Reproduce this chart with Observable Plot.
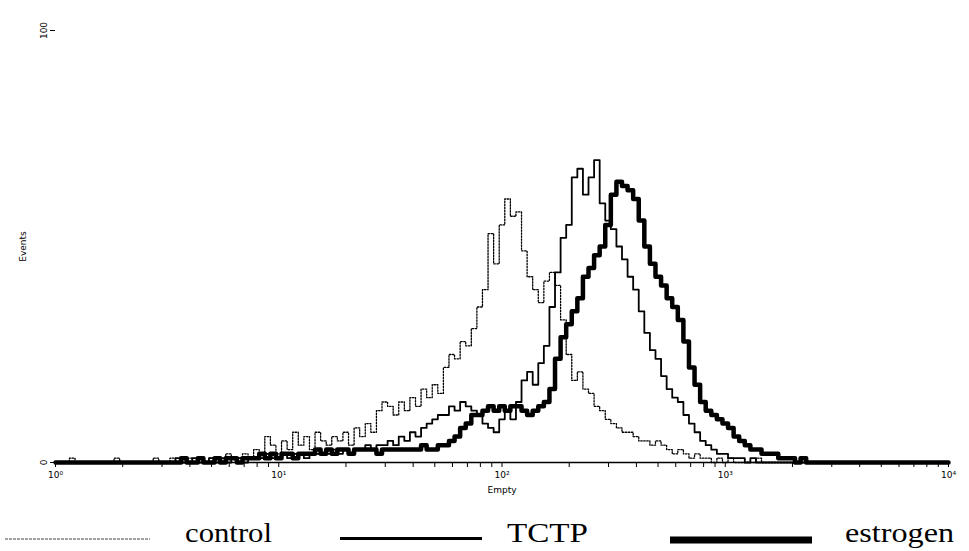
<!DOCTYPE html>
<html><head><meta charset="utf-8">
<script src="https://cdn.jsdelivr.net/npm/d3@7"></script>
<script src="https://cdn.jsdelivr.net/npm/@observablehq/plot@0.6"></script>
<style>
body{margin:0;background:#fff;}
#wrap{position:relative;width:969px;height:551px;overflow:hidden;background:#fff;}
#legend{position:absolute;left:0;top:500px;}
</style></head><body>
<div id="wrap"><div id="chart"></div>
<svg id="legend" width="969" height="51" font-family="'Liberation Serif', serif" font-size="27" fill="#000">
  <line x1="5" x2="150" y1="39" y2="39" stroke="#444" stroke-width="1" stroke-dasharray="3,1"/>
  <text x="185" y="42" textLength="87" lengthAdjust="spacingAndGlyphs">control</text>
  <line x1="340" x2="482" y1="38.5" y2="38.5" stroke="#000" stroke-width="3"/>
  <text x="507" y="42" textLength="81" lengthAdjust="spacingAndGlyphs">TCTP</text>
  <line x1="670" x2="812" y1="40" y2="40" stroke="#000" stroke-width="7"/>
  <text x="845" y="42" textLength="109" lengthAdjust="spacingAndGlyphs">estrogen</text>
</svg></div>
<script>
// Histogram channels: log-spaced bins, 40 per decade from 10^0 to 10^4
const logStep = 0.025;
const seriesNames = ["control", "TCTP", "estrogen"];

const control = [
  0,0,0,1,0,0,0,0,0,0,0,1,0,0,0,0,0,0,1,0,
  0,1,0,0,1,0,1,0,1,1,0,2,1,1,2,1,
  3,2,6,4,2,5,3,7,4,6,3,7,
  5,4,6,5,7,4,8,6,9,7,12,14,
  13,11,14,12,15,13,17,15,18,16,
  22,25,24,28,27,31,36,40,53,46,
  55,61,57,58,49,43,40,37,42,44,
  41,33,25,19,21,17,16,13,12,10,
  9,8,7,7,6,5,5,4,5,4,
  3,2,3,2,1,2,1,1,0,1,
  0,1,0,0,0,0,1,0,0,0,0,0,0,0,0,0,0,0,0,0,
  0,0,0,0,0,0,0,0,0,0,0,0,0,0,0,0,0,0,0,0,0
];
const tctp = [
  0,0,0,0,0,0,0,0,0,0,0,0,0,0,0,0,0,0,0,0,
  0,0,1,0,0,1,0,0,1,0,1,0,1,1,0,1,
  1,1,2,1,1,2,1,2,2,1,2,2,
  2,2,3,2,3,2,3,3,4,3,4,4,
  5,4,6,5,7,6,8,9,10,11,
  11,13,12,14,13,12,11,9,8,7,
  10,12,10,14,19,21,18,23,27,36,
  44,52,55,66,68,62,66,70,60,56,
  54,50,47,43,40,35,30,26,24,20,
  17,15,14,11,9,7,5,4,3,2,
  2,1,1,1,0,1,0,0,0,0,0,0,0,0,0,0,0,0,0,0,
  0,0,0,0,0,0,0,0,0,0,0,0,0,0,0,0,0,0,0,0,0
];
const estrogen = [
  0,0,0,0,0,0,0,0,0,0,0,0,0,0,0,0,0,0,0,0,
  0,0,0,1,0,0,1,0,0,1,0,1,1,0,1,1,
  1,2,1,2,1,2,2,1,2,2,2,3,
  2,3,2,3,3,2,3,3,3,3,2,3,
  3,3,3,3,3,3,4,3,3,4,
  4,5,6,8,9,11,11,12,13,12,
  13,12,13,13,12,11,12,13,14,17,
  24,29,32,35,38,43,45,48,50,55,
  62,65,64,63,61,56,50,46,43,41,
  38,36,33,28,22,18,14,12,11,10,
  9,8,6,5,4,3,3,2,2,2,
  1,1,1,0,1,0,0,0,0,0,0,0,0,0,0,0,0,0,0,0,0,0,0,0,0,0,0,0,0,0,0
];

const xTickValues = [1, 10, 100, 1000, 10000];
const xTickLabels = ["10\u2070", "10\u00b9", "10\u00b2", "10\u00b3", "10\u2074"];
const yTickValues = [0, 100];
const yTickLabels = ["0", "100"];

const styles = {
  control:  {stroke: "#000", strokeWidth: 1.3, strokeDasharray: "1.5,1.5"},
  TCTP:     {stroke: "#000", strokeWidth: 1.8},
  estrogen: {stroke: "#000", strokeWidth: 4.5}
};

const allSeries = [control, tctp, estrogen];
const rows = [];
allSeries.forEach((vals, k) => vals.forEach((v, i) => rows.push({series: seriesNames[k], x: 10 ** (i * logStep), y: v})));

const minorTicks = [];
for (let e = 0; e < 4; e++) for (let m = 1; m < 10; m++) minorTicks.push(m * 10 ** e);
minorTicks.push(10000);

const chart = Plot.plot({
  width: 969,
  height: 500,
  marginLeft: 55,
  marginRight: 21,
  marginTop: 30,
  marginBottom: 38,
  style: {fontFamily: "'DejaVu Sans', sans-serif", fontSize: "9px", color: "#000", background: "#fff"},
  x: {type: "log", domain: [1, 10000]},
  y: {domain: [0, 100]},
  marks: [
    Plot.axisX({ticks: minorTicks, tickSize: 5, tickFormat: () => "", label: null}),
    Plot.axisX({ticks: xTickValues, tickSize: 0, tickPadding: 9, tickFormat: (d, i) => xTickLabels[xTickValues.indexOf(d)],
      label: "Empty", labelAnchor: "center", labelOffset: 30, labelArrow: "none"}),
    Plot.axisY({ticks: yTickValues, tickSize: 5, tickRotate: -90, tickFormat: d => yTickLabels[yTickValues.indexOf(d)],
      label: "Events", labelAnchor: "center", labelOffset: 36, labelArrow: "none"}),
    Plot.ruleY([0], {stroke: "#000", strokeWidth: 1.5}),
    ...seriesNames.map(name => Plot.line(rows.filter(r => r.series === name), {x: "x", y: "y", curve: "step", ...styles[name]}))
  ]
});
document.getElementById("chart").appendChild(chart);
</script>
</body></html>
